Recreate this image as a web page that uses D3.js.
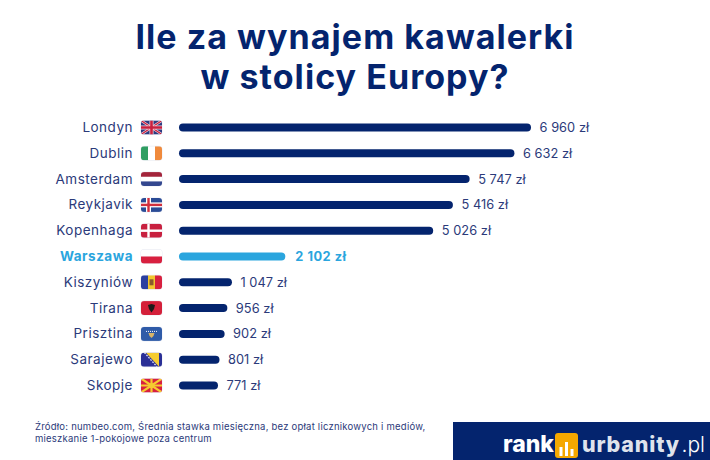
<!DOCTYPE html>
<html>
<head>
<meta charset="utf-8">
<script src="https://cdn.jsdelivr.net/npm/d3@7"></script>
<style>
  html, body { margin: 0; padding: 0; background: #fff; }
  text { font-family: Inter, "Open Sans", sans-serif; }
</style>
</head>
<body>
<svg id="chart" width="710" height="460"></svg>
<script>
const cities = ["Londyn", "Dublin", "Amsterdam", "Reykjavik", "Kopenhaga", "Warszawa", "Kiszyniów", "Tirana", "Prisztina", "Sarajewo", "Skopje"];
const rents = [6960, 6632, 5747, 5416, 5026, 2102, 1047, 956, 902, 801, 771];
const flagCodes = ["gb", "ie", "nl", "is", "dk", "pl", "md", "al", "xk", "ba", "mk"];
const highlightCity = "Warszawa";
const titleLines = ["Ile za wynajem kawalerki", "w stolicy Europy?"];
const sourceLines = ["Źródło: numbeo.com, Średnia stawka miesięczna, bez opłat licznikowych i mediów,", "mieszkanie 1-pokojowe poza centrum"];

const navy = "#04246e", sky = "#2aa5de", labelColor = "#2b3a7a";

const svg = d3.select("#chart");
svg.append("rect").attr("width", 710).attr("height", 460).attr("fill", "#fff");

const x = d3.scaleLinear().domain([0, 6960]).range([179, 531]);
const y = d3.scalePoint().domain(cities).range([127.5, 385.5]);

// title
svg.append("g").selectAll("text").data(titleLines).join("text")
  .attr("x", 355)
  .attr("y", (d, i) => 48.5 + i * 40.5)
  .attr("text-anchor", "middle")
  .attr("font-size", 34)
  .attr("font-weight", 700)
  .attr("letter-spacing", 1.05)
  .attr("fill", navy)
  .text(d => d);

// bars
svg.append("g").selectAll("rect").data(cities).join("rect")
  .attr("x", x(0))
  .attr("y", d => y(d) - 4)
  .attr("width", (d, i) => x(rents[i]) - x(0))
  .attr("height", 8)
  .attr("rx", 4)
  .attr("fill", d => d === highlightCity ? sky : navy);

// city labels
svg.append("g").selectAll("text").data(cities).join("text")
  .attr("x", 133)
  .attr("y", d => y(d) + 4.5)
  .attr("text-anchor", "end")
  .attr("font-size", 13.5)
  .attr("font-weight", d => d === highlightCity ? 700 : 400)
  .attr("letter-spacing", 0.5)
  .attr("fill", d => d === highlightCity ? sky : labelColor)
  .text(d => d);

// value labels, space as thousands separator
const fmt = v => d3.format(",")(v).replace(",", " ") + " zł";
svg.append("g").selectAll("text").data(cities).join("text")
  .attr("x", (d, i) => x(rents[i]) + (cities[i] === highlightCity ? 10 : 8.5))
  .attr("y", d => y(d) + 4.5)
  .attr("font-size", 12.8)
  .attr("font-weight", d => d === highlightCity ? 700 : 400)
  .attr("letter-spacing", d => d === highlightCity ? 0.5 : 0.05)
  .attr("fill", d => d === highlightCity ? sky : labelColor)
  .text((d, i) => fmt(rents[i]));

// flags
const fw = 21, fh = 14;
const defs = svg.append("defs");
defs.append("clipPath").attr("id", "flagClip")
  .append("rect").attr("width", fw).attr("height", fh).attr("rx", 3);

function stripes(g, colors, vertical) {
  colors.forEach((c, i) => {
    g.append("rect")
      .attr("x", vertical ? i * fw / colors.length : 0)
      .attr("y", vertical ? 0 : i * fh / colors.length)
      .attr("width", vertical ? fw / colors.length + 0.2 : fw)
      .attr("height", vertical ? fh : fh / colors.length + 0.2)
      .attr("fill", c);
  });
}
function cross(g, bg, outer, inner) {
  g.append("rect").attr("width", fw).attr("height", fh).attr("fill", bg);
  if (outer) {
    g.append("rect").attr("x", 5).attr("width", 5).attr("height", fh).attr("fill", outer);
    g.append("rect").attr("y", 4.5).attr("width", fw).attr("height", 5).attr("fill", outer);
  }
  g.append("rect").attr("x", 6.3).attr("width", 2.4).attr("height", fh).attr("fill", inner);
  g.append("rect").attr("y", 5.8).attr("width", fw).attr("height", 2.4).attr("fill", inner);
}
const flagDraw = {
  gb: g => {
    g.append("rect").attr("width", fw).attr("height", fh).attr("fill", "#2b3a80");
    g.append("path").attr("d", `M0 0L${fw} ${fh}M${fw} 0L0 ${fh}`).attr("stroke", "#f4d6dc").attr("stroke-width", 2.4);
    g.append("path").attr("d", `M0 0L${fw} ${fh}M${fw} 0L0 ${fh}`).attr("stroke", "#c8203f").attr("stroke-width", 1.2);
    g.append("path").attr("d", `M${fw / 2} 0V${fh}M0 ${fh / 2}H${fw}`).attr("stroke", "#f4d6dc").attr("stroke-width", 4);
    g.append("path").attr("d", `M${fw / 2} 0V${fh}M0 ${fh / 2}H${fw}`).attr("stroke", "#c8203f").attr("stroke-width", 2.6);
  },
  ie: g => stripes(g, ["#2f9e62", "#fff", "#f08a3c"], true),
  nl: g => stripes(g, ["#a3243b", "#fff", "#33478f"], false),
  is: g => cross(g, "#2a4b96", "#fff", "#d22f3c"),
  dk: g => cross(g, "#c8203f", null, "#fff"),
  pl: g => stripes(g, ["#fff", "#d8203f"], false),
  md: g => {
    stripes(g, ["#2b3fa0", "#f2c62f", "#d8203f"], true);
    g.append("rect").attr("x", 8.5).attr("y", 4).attr("width", 4).attr("height", 6).attr("fill", "#8a5a2b");
  },
  al: g => {
    g.append("rect").attr("width", fw).attr("height", fh).attr("fill", "#d4203a");
    g.append("path").attr("d", "M7 4L10.5 3L14 4L13 8L10.5 11.5L8 8Z").attr("fill", "#1a1a1a");
  },
  xk: g => {
    g.append("rect").attr("width", fw).attr("height", fh).attr("fill", "#2f5ba8");
    g.append("path").attr("d", "M7.5 6L13.5 6L12.5 9L10.5 11L8.5 9Z").attr("fill", "#d9b568");
    g.append("path").attr("d", "M5 4.5H16").attr("stroke", "#fff").attr("stroke-width", 1).attr("stroke-dasharray", "1 1");
  },
  ba: g => {
    g.append("rect").attr("width", fw).attr("height", fh).attr("fill", "#2a2f96");
    g.append("path").attr("d", `M5 0H${fw - 3}V${fh}Z`).attr("fill", "#f5cc30");
    g.append("path").attr("d", `M3.5 0L${fw - 5} ${fh}`).attr("stroke", "#fff").attr("stroke-width", 1.2).attr("stroke-dasharray", "1.5 1.5");
  },
  mk: g => {
    g.append("rect").attr("width", fw).attr("height", fh).attr("fill", "#d8203f");
    const c = [fw / 2, fh / 2];
    [[0, 0], [fw, 0], [0, fh], [fw, fh], [fw / 2, 0], [fw / 2, fh], [0, fh / 2], [fw, fh / 2]].forEach(p => {
      g.append("path").attr("d", `M${c[0]} ${c[1]}L${p[0]} ${p[1]}`).attr("stroke", "#f5cc30").attr("stroke-width", 2.2);
    });
    g.append("circle").attr("cx", c[0]).attr("cy", c[1]).attr("r", 2.6).attr("fill", "#f5cc30");
  }
};
// faint outline under each flag, the white Polish stripe needs it
svg.append("g").selectAll("rect").data(cities).join("rect")
  .attr("x", 140.5)
  .attr("y", d => y(d) - fh / 2 - 0.5)
  .attr("width", fw + 1)
  .attr("height", fh + 1)
  .attr("rx", 3.5)
  .attr("fill", "#eceef5");
svg.append("g").selectAll("g").data(cities).join("g")
  .attr("transform", d => `translate(141,${y(d) - fh / 2})`)
  .attr("clip-path", "url(#flagClip)")
  .each(function (d, i) { flagDraw[flagCodes[i]](d3.select(this)); });

// source note
svg.append("g").selectAll("text").data(sourceLines).join("text")
  .attr("x", 35)
  .attr("y", (d, i) => 430 + i * 11.5)
  .attr("font-size", 9.5)
  .attr("letter-spacing", 0.23)
  .attr("fill", labelColor)
  .text(d => d);

// footer logos
const footer = svg.append("g");
footer.append("rect").attr("x", 453).attr("y", 422).attr("width", 257).attr("height", 38).attr("fill", navy);
footer.append("text").attr("x", 503).attr("y", 452).attr("font-size", 23).attr("font-weight", 800).attr("fill", "#fff").text("rank");
footer.append("rect").attr("x", 555).attr("y", 433).attr("width", 23).attr("height", 25).attr("rx", 3).attr("fill", "#f5a800");
footer.selectAll("rect.b").data([9, 14, 7]).join("rect")
  .attr("class", "b")
  .attr("x", (d, i) => 559.5 + i * 5.5)
  .attr("y", d => 456 - d)
  .attr("width", 3).attr("height", d => d).attr("fill", "#fff");
footer.append("text").attr("x", 582).attr("y", 452).attr("font-size", 21.5).attr("font-weight", 800).attr("letter-spacing", 0.8).attr("fill", "#dfe3ec").text("urbanity");
footer.append("text").attr("x", 681.5).attr("y", 452).attr("font-size", 21).attr("font-weight", 300).attr("fill", "#fff").text(".pl");
</script>
</body>
</html>
